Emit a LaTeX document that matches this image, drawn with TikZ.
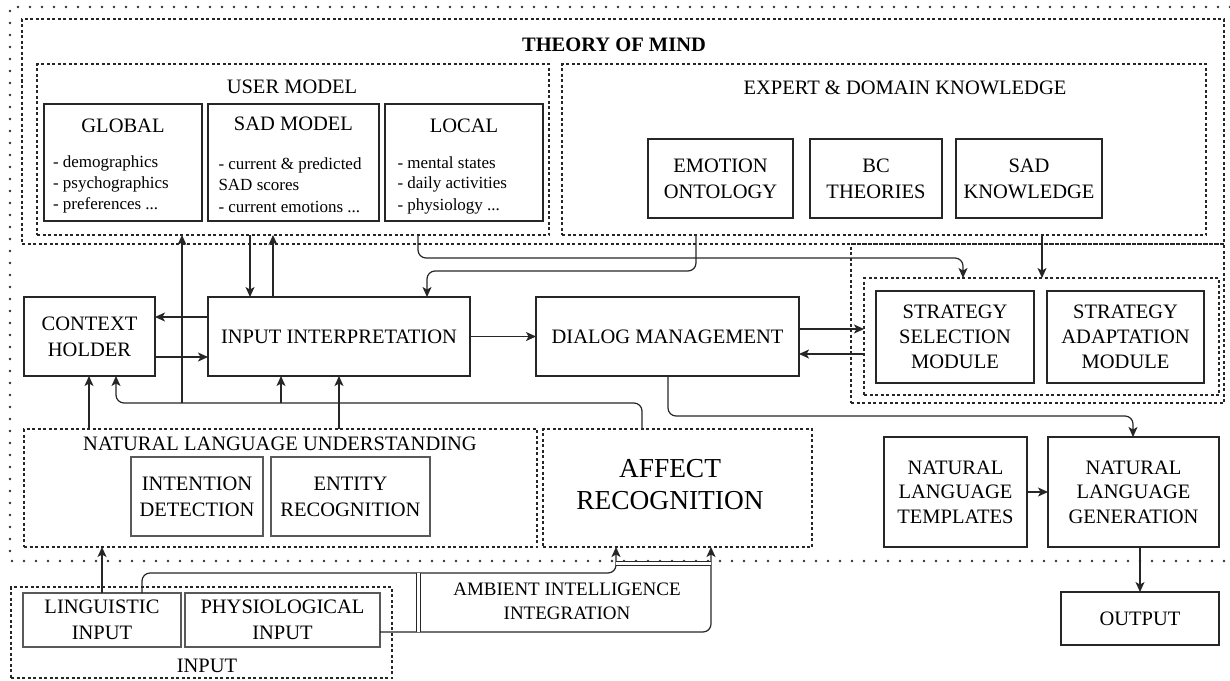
\documentclass[tikz,border=0pt]{standalone}
\usepackage{fontspec}
\setmainfont{Liberation Serif}
\usetikzlibrary{arrows.meta}
\begin{document}
\begin{tikzpicture}[x=1pt,y=-1pt,
  every node/.style={inner sep=0pt, outer sep=0pt},
  bx/.style={draw=black!85, line width=1.2pt, align=center, font=\fontsize{20.5}{26}\selectfont},
  gbx/.style={draw=black!65, line width=1.8pt, align=center, font=\fontsize{20.5}{26}\selectfont},
  dbox/.style={draw=black!85, line width=1.1pt, dash pattern=on 3pt off 2.5pt},
  lbl/.style={font=\fontsize{20.5}{26}\selectfont, align=center},
  sm/.style={font=\fontsize{17}{21}\selectfont, anchor=base west},
  arr/.style={draw=black!85, line width=1.2pt, -{Stealth[length=10pt,width=9pt,inset=2.5pt]}, rounded corners=8pt},
  dots/.style={draw=black!80, line width=2.8pt, dash pattern=on 0pt off 12pt, line cap=round},
]
\useasboundingbox (0,0) rectangle (1230,680);

% outer dotted frame
\draw[dots] (1230,7) -- (10,7) -- (10,561) -- (1230,561);

% Theory of mind
\node[dbox, minimum width=1202pt, minimum height=225pt] (tom) at (623,131.5) {};
\node[font=\fontsize{20.5}{26}\selectfont\bfseries] (tomt) at (614,45) {THEORY OF MIND};

% user model
\node[dbox, minimum width=512pt, minimum height=171pt] (um) at (293,149.5) {};
\node[lbl] (umt) at (292,87) {USER MODEL};
\node[bx, minimum width=158pt, minimum height=117pt] (glob) at (123,162.5) {};
\node[bx, minimum width=171pt, minimum height=117pt] (sadm) at (293.5,162.5) {};
\node[bx, minimum width=158pt, minimum height=117pt] (loc) at (464,162.5) {};
\node[lbl] (globt) at (123,126) {GLOBAL};
\node[lbl] (sadmt) at (293.5,124) {SAD MODEL};
\node[lbl] (loct) at (464,126) {LOCAL};
\node[sm] (g1) at (53,167) {- demographics};
\node[sm] (g2) at (53,188) {- psychographics};
\node[sm] (g3) at (53,209) {- preferences ...};
\node[sm] (s1) at (218.5,169) {- current \& predicted};
\node[sm] (s2) at (218.5,190) {SAD scores};
\node[sm] (s3) at (218.5,212) {- current emotions ...};
\node[sm] (l1) at (397.5,168) {- mental states};
\node[sm] (l2) at (397.5,188) {- daily activities};
\node[sm] (l3) at (397.5,210) {- physiology ...};

% expert
\node[dbox, minimum width=644pt, minimum height=171pt] (exp) at (884,149.5) {};
\node[lbl] (expt) at (905,88) {EXPERT \& DOMAIN KNOWLEDGE};
\node[bx, minimum width=145pt, minimum height=79pt] (emo) at (720.5,178.5) {EMOTION\\ONTOLOGY};
\node[bx, minimum width=132pt, minimum height=79pt] (bct) at (876,178.5) {BC\\THEORIES};
\node[bx, minimum width=146pt, minimum height=79pt] (sadk) at (1029,178.5) {SAD\\KNOWLEDGE};

% middle row
\node[bx, minimum width=131pt, minimum height=79pt] (ch) at (89.5,336.5) {CONTEXT\\HOLDER};
\node[bx, minimum width=262pt, minimum height=79pt] (ii) at (339,336.5) {INPUT INTERPRETATION};
\node[bx, minimum width=263pt, minimum height=79pt] (dm) at (667.5,336.5) {DIALOG MANAGEMENT};

% strategy
\node[dbox, minimum width=373pt, minimum height=159pt] (sout) at (1037.5,323.5) {};
\node[dbox, minimum width=355pt, minimum height=117pt] (inner) at (1041.5,336.5) {};
\node[bx, font=\fontsize{20.5}{25}\selectfont, minimum width=158pt, minimum height=92pt] (ssm) at (955,337) {STRATEGY\\SELECTION\\MODULE};
\node[bx, font=\fontsize{20.5}{25}\selectfont, minimum width=157pt, minimum height=92pt] (sam) at (1125.5,337) {STRATEGY\\ADAPTATION\\MODULE};

% NLU
\node[dbox, minimum width=513pt, minimum height=118pt] (nlu) at (280.5,488) {};
\node[lbl] (nlut) at (280,444) {NATURAL LANGUAGE UNDERSTANDING};
\node[gbx, minimum width=132pt, minimum height=79pt] (intd) at (197,496.5) {INTENTION\\DETECTION};
\node[gbx, minimum width=159pt, minimum height=79pt] (entr) at (350.5,496.5) {ENTITY\\RECOGNITION};

% affect
\node[dbox, minimum width=269pt, minimum height=118pt] (aff) at (677.5,488) {};
\node[font=\fontsize{27.4}{32}\selectfont, align=center] (afft) at (670,485) {AFFECT\\RECOGNITION};

% NLG side
\node[bx, font=\fontsize{20.5}{24.5}\selectfont, minimum width=143pt, minimum height=110pt] (nlt) at (955.5,492) {NATURAL\\LANGUAGE\\TEMPLATES};
\node[bx, font=\fontsize{20.5}{24.5}\selectfont, minimum width=171pt, minimum height=110pt] (nlg) at (1133.5,492) {NATURAL\\LANGUAGE\\GENERATION};
\node[bx, minimum width=158pt, minimum height=53pt] (out) at (1140,618.5) {OUTPUT};

% input
\node[dbox, minimum width=381pt, minimum height=91pt] (inp) at (201.5,632.5) {};
\node[lbl] (inpt) at (207,666) {INPUT};
\node[gbx, minimum width=158pt, minimum height=54pt] (li) at (102,620) {LINGUISTIC\\INPUT};
\node[gbx, minimum width=195pt, minimum height=54pt] (pi) at (282.5,620) {PHYSIOLOGICAL\\INPUT};
\node[font=\fontsize{19}{24}\selectfont, align=center] (amb) at (567,601) {AMBIENT INTELLIGENCE\\INTEGRATION};

% connectors
\draw[arr] (um.south -| 250,0) -- (ii.north -| 250,0);
\draw[arr] (ii.north -| 273,0) -- (um.south -| 273,0);
\draw[arr] (ii.west |- 0,317) -- (ch.east |- 0,317);
\draw[arr] (ch.east |- 0,357) -- (ii.west |- 0,357);
\draw[arr] (ii) -- (dm);
\draw[arr] (um.south -| 418,0) -- (418,258) -- (963,258) -- (inner.north -| 963,0);
\draw[arr] (exp.south -| 696,0) -- (696,271) -- (427,271) -- (ii.north -| 427,0);
\draw[arr] (exp.south -| 1042,0) -- (inner.north -| 1042,0);
\draw[arr] (dm.east |- 0,329) -- (inner.west |- 0,329);
\draw[arr] (inner.west |- 0,354) -- (dm.east |- 0,354);
\draw[arr] (dm.south -| 668,0) -- (668,416) -- (1133,416) -- (nlg.north -| 1133,0);
\draw[arr] (nlt) -- (nlg);
\draw[arr] (nlg.south -| 1140,0) -- (out.north -| 1140,0);

\coordinate (j1) at (182,403);
\coordinate (j2) at (281,403);
\draw[arr] (aff.north -| 642,0) -- (642,403) -- (116,403) -- (ch.south -| 116,0);
\draw[arr] (j1) -- (um.south -| j1);
\draw[arr] (j2) -- (ii.south -| j2);
\draw[arr] (nlu.north -| 89,0) -- (ch.south -| 89,0);
\draw[arr] (nlu.north -| 339,0) -- (ii.south -| 339,0);

\draw[arr] (li.north -| 102,0) -- (nlu.south -| 102,0);
\draw[arr] (li.north -| 142,0) -- (142,573) -- (616,573) -- (aff.south -| 616,0);
\draw[arr] (pi.east |- 0,632) -- (711,632) -- (aff.south -| 711,0);
\draw[black!85, line width=1pt, double, double distance=3pt] (418,573) -- (418,632);
\draw[black!85, line width=1pt, double, double distance=3pt] (616,563) -- (711,563);
\end{tikzpicture}
\end{document}
